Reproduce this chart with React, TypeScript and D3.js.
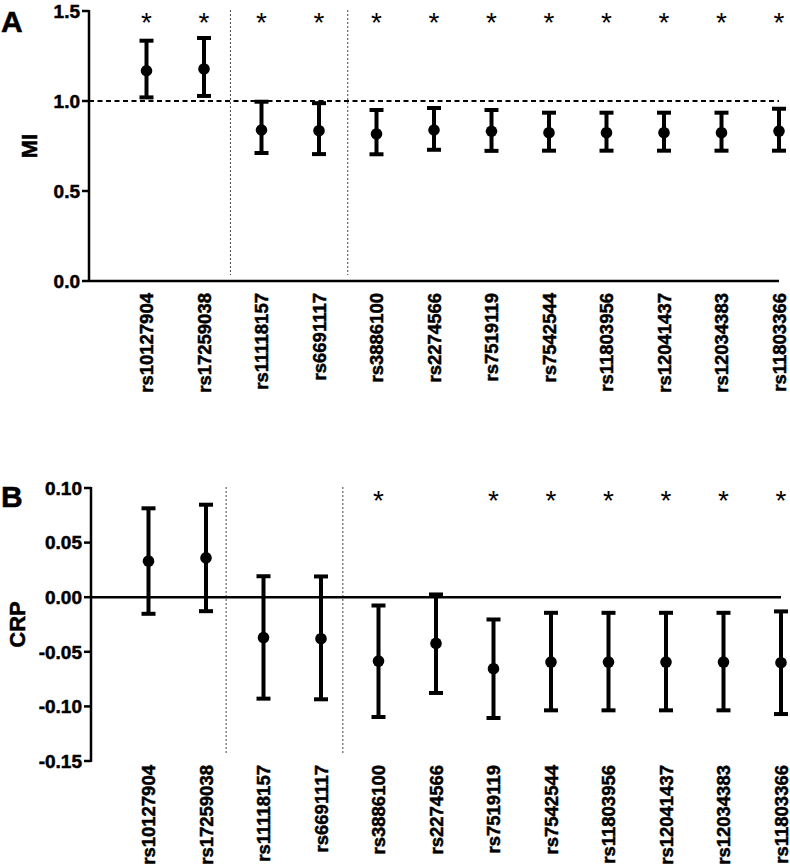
import * as d3 from "d3";

const snps = [
  "rs10127904",
  "rs17259038",
  "rs11118157",
  "rs6691117",
  "rs3886100",
  "rs2274566",
  "rs7519119",
  "rs7542544",
  "rs11803956",
  "rs12041437",
  "rs12034383",
  "rs11803366",
];

// panel A: MI
const miMean = [1.168, 1.178, 0.839, 0.835, 0.817, 0.839, 0.832, 0.824, 0.824, 0.824, 0.824, 0.833];
const miLow = [1.02, 1.028, 0.711, 0.705, 0.704, 0.729, 0.723, 0.724, 0.724, 0.724, 0.724, 0.724];
const miHigh = [1.335, 1.35, 0.996, 0.988, 0.95, 0.961, 0.95, 0.935, 0.935, 0.935, 0.935, 0.957];
const miStars = [true, true, true, true, true, true, true, true, true, true, true, true];
const miTicks = [0, 0.5, 1.0, 1.5];
const miRef = 1.0;
const miSeparators = [2.46, 4.5];

// panel B: CRP
const crpMean = [0.033, 0.036, -0.037, -0.038, -0.0585, -0.0423, -0.0655, -0.0594, -0.0594, -0.0594, -0.0594, -0.06];
const crpLow = [-0.0152, -0.0128, -0.0929, -0.0935, -0.1097, -0.0877, -0.1106, -0.1036, -0.1036, -0.1036, -0.1036, -0.107];
const crpHigh = [0.0814, 0.0847, 0.0192, 0.019, -0.0076, 0.0025, -0.0204, -0.0143, -0.0143, -0.0143, -0.0143, -0.013];
const crpStars = [false, false, false, false, true, false, true, true, true, true, true, true];
const crpTicks = [-0.15, -0.1, -0.05, 0, 0.05, 0.1];
const crpSeparators = [2.35, 4.38];

const font = "'Liberation Sans', Arial, Helvetica, sans-serif";
const fmt = (spec: string) => (v: number) => d3.format(spec)(v).replace("\u2212", "-");

// a thin outline makes the bold text look as heavy as the original
const heavy = { stroke: "#000", strokeWidth: 0.5 };

type PanelProps = {
  letter: string;
  yLabel: string;
  yLabelX: number;
  mean: number[];
  low: number[];
  high: number[];
  stars: boolean[];
  ticks: number[];
  tickFormat: (v: number) => string;
  separators: number[];
  yDomain: [number, number];
  yRange: [number, number];
  xRange: [number, number];
  baseline: number;
  starY: number;
  labelTop: number;
  letterY: number;
};

const Panel = (p: PanelProps) => {
  const y = d3.scaleLinear().domain(p.yDomain).range(p.yRange);
  const x = d3.scaleLinear().domain([0, snps.length]).range(p.xRange);
  const [x0, x1] = p.xRange;
  const yTop = p.yRange[1];
  const yBottom = p.yRange[0];
  const capHalf = 7;
  const starSize = 28;

  return (
    <g fontFamily={font}>
      <text x={1} y={p.letterY} fontSize={30} fontWeight={700} {...heavy}>
        {p.letter}
      </text>
      <text
        transform={`translate(${p.yLabelX},${(yTop + yBottom) / 2}) rotate(-90)`}
        textAnchor="middle"
        fontSize={22}
        fontWeight={700}
        {...heavy}
      >
        {p.yLabel}
      </text>

      {/* separators between SNP groups */}
      {p.separators.map((s) => (
        <line
          key={s}
          x1={x(s)}
          x2={x(s)}
          y1={yTop - 1}
          y2={yBottom - 6}
          stroke="#444"
          strokeWidth={1}
          strokeDasharray="2,2"
        />
      ))}

      {/* y axis */}
      <line x1={x0} x2={x0} y1={yTop - 1} y2={yBottom + 1} stroke="#000" strokeWidth={2.5} />
      {p.ticks.map((t) => (
        <g key={t}>
          <line x1={x0 - 7} x2={x0} y1={y(t)} y2={y(t)} stroke="#000" strokeWidth={2.5} />
          <text
            x={x0 - 9}
            y={y(t)}
            dy="0.36em"
            textAnchor="end"
            fontSize={19}
            fontWeight={700}
            {...heavy}
          >
            {p.tickFormat(t)}
          </text>
        </g>
      ))}

      {/* zero line */}
      <line
        x1={x0}
        x2={x1}
        y1={y(p.baseline)}
        y2={y(p.baseline)}
        stroke="#000"
        strokeWidth={2.4}
      />

      {/* error bars */}
      {snps.map((name, i) => {
        const cx = x(i + 1);
        return (
          <g key={name}>
            <line x1={cx} x2={cx} y1={y(p.low[i])} y2={y(p.high[i])} stroke="#000" strokeWidth={4} />
            <line
              x1={cx - capHalf}
              x2={cx + capHalf}
              y1={y(p.high[i])}
              y2={y(p.high[i])}
              stroke="#000"
              strokeWidth={4}
            />
            <line
              x1={cx - capHalf}
              x2={cx + capHalf}
              y1={y(p.low[i])}
              y2={y(p.low[i])}
              stroke="#000"
              strokeWidth={4}
            />
            <circle cx={cx} cy={y(p.mean[i])} r={5.8} fill="#000" />
            {p.stars[i] && (
              <text x={cx} y={p.starY + starSize * 0.58} textAnchor="middle" fontSize={starSize}>
                *
              </text>
            )}
            <text
              transform={`translate(${cx},${p.labelTop}) rotate(-90)`}
              dy="0.36em"
              textAnchor="end"
              fontSize={18.5}
              fontWeight={700}
              {...heavy}
            >
              {name}
            </text>
          </g>
        );
      })}
    </g>
  );
};

export default function App() {
  const yMi = d3.scaleLinear().domain([0, 1.5]).range([281, 11]);
  return (
    <svg
      width={790}
      height={868}
      style={{ position: "absolute", left: 0, top: 0, background: "#fff" }}
    >
      <rect width={790} height={868} fill="#fff" />
      <Panel
        letter="A"
        yLabel="MI"
        yLabelX={37}
        mean={miMean}
        low={miLow}
        high={miHigh}
        stars={miStars}
        ticks={miTicks}
        tickFormat={fmt(".1f")}
        separators={miSeparators}
        yDomain={[0, 1.5]}
        yRange={[281, 11]}
        xRange={[89, 779]}
        baseline={0}
        starY={16}
        labelTop={293}
        letterY={32}
      />
      <Panel
        letter="B"
        yLabel="CRP"
        yLabelX={25}
        mean={crpMean}
        low={crpLow}
        high={crpHigh}
        stars={crpStars}
        ticks={crpTicks}
        tickFormat={fmt(".2f")}
        separators={crpSeparators}
        yDomain={[-0.15, 0.1]}
        yRange={[761, 488]}
        xRange={[91, 781]}
        baseline={0}
        starY={494}
        labelTop={765}
        letterY={507}
      />
      {/* MI = 1 reference */}
      <line
        x1={89}
        x2={779}
        y1={yMi(miRef)}
        y2={yMi(miRef)}
        stroke="#000"
        strokeWidth={2}
        strokeDasharray="5,3.5"
      />
    </svg>
  );
}
